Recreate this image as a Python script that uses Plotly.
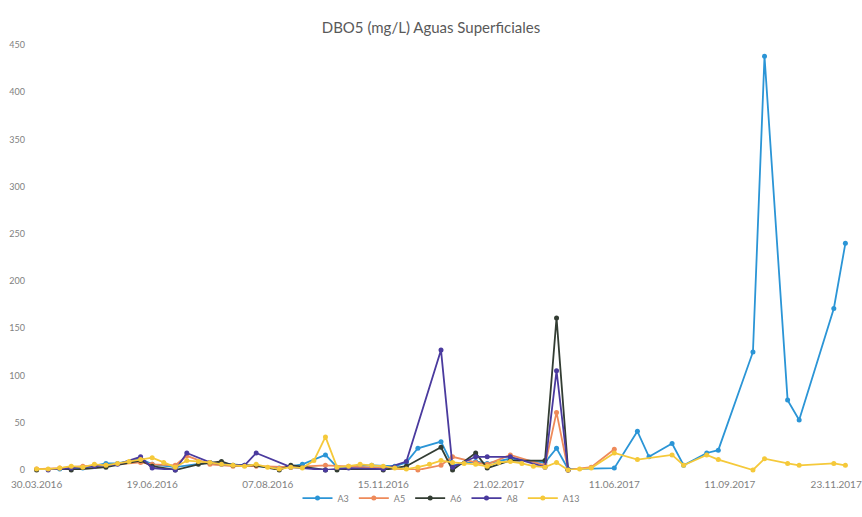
import plotly.graph_objects as go

title_text = "DBO5 (mg/L) Aguas Superficiales"

# Category axis: sample index (0..70); tick labels every 10 samples
tick_index = [0, 10, 20, 30, 40, 50, 60, 70]
tick_labels = ["30.03.2016", "19.06.2016", "07.08.2016", "15.11.2016",
               "21.02.2017", "11.06.2017", "11.09.2017", "23.11.2017"]
y_ticks = [0, 50, 100, 150, 200, 250, 300, 350, 400, 450]

series_names = ["A3", "A5", "A6", "A8", "A13"]

a3_idx = [2, 4, 6, 7, 9, 10, 12, 15, 18, 21, 23, 25, 26, 29, 31, 32, 33, 35, 36, 38, 39, 41, 44, 45, 46,
          50, 52, 53, 55, 56, 58, 59, 62, 63, 65, 66, 69, 70]
a3_val = [1, 2, 7, 7, 12, 6, 3, 8, 5, 2, 6, 16, 3, 5, 4, 8, 23, 30, 5, 9, 7, 12, 8, 23, 1,
          2, 41, 14, 28, 5, 18, 21, 125, 438, 74, 53, 171, 240]

a5_idx = [0, 2, 4, 6, 9, 10, 12, 13, 15, 17, 19, 22, 25, 27, 30, 33, 35, 36, 38, 39, 41, 44, 45, 46, 48, 50]
a5_val = [1, 2, 4, 5, 8, 6, 5, 15, 6, 4, 4, 3, 5, 4, 2, 0, 5, 14, 8, 6, 16, 5, 61, 0, 3, 22]

a6_idx = [0, 3, 6, 9, 10, 12, 14, 16, 17, 19, 21, 22, 25, 26, 30, 32, 35, 36, 38, 39, 41, 44, 45, 46]
a6_val = [0, 0, 3, 10, 4, 0, 6, 9, 5, 5, 0, 5, 0, 0, 0, 4, 24, 0, 18, 2, 10, 10, 161, 0]

a8_idx = [1, 3, 5, 7, 9, 10, 12, 13, 15, 16, 18, 19, 22, 25, 27, 30, 32, 35, 36, 38, 39, 41, 44, 45, 46]
a8_val = [0, 2, 4, 6, 14, 2, 0, 18, 8, 6, 5, 18, 3, 0, 2, 1, 9, 127, 3, 14, 14, 14, 3, 105, 0]

a13_idx = [0, 1, 2, 3, 4, 5, 6, 7, 8, 9, 10, 11, 12, 13, 14, 15, 16, 17, 18, 19, 20, 21, 22, 23, 24,
           25, 26, 27, 28, 29, 30, 31, 32, 33, 34, 35, 36, 37, 38, 39, 40, 41, 42, 43, 44, 45, 46,
           47, 48, 50, 52, 55, 56, 58, 59, 62, 63, 65, 66, 69, 70]
a13_val = [1, 1, 2, 4, 3, 6, 5, 7, 9, 11, 13, 8, 3, 10, 9, 8, 6, 5, 4, 6, 3, 1, 3, 2, 10,
           35, 3, 4, 6, 5, 4, 2, 1, 3, 6, 10, 8, 7, 6, 4, 8, 9, 7, 4, 3, 8, 0,
           1, 2, 18, 11, 16, 5, 16, 11, 0, 12, 7, 5, 7, 5]

colors = ["#2b95d6", "#ee8a5a", "#333d33", "#4a3a9e", "#f5c93a"]
data = [(a3_idx, a3_val), (a5_idx, a5_val), (a6_idx, a6_val), (a8_idx, a8_val), (a13_idx, a13_val)]

fig = go.Figure()
for name, (xs, ys), col in zip(series_names, data, colors):
    fig.add_trace(go.Scatter(
        x=xs, y=ys, name=name, mode="lines+markers",
        line=dict(color=col, width=1.8),
        marker=dict(color=col, size=5),
        cliponaxis=False,
    ))

# keep the last date label inside the canvas, as in the reference
tick_pos = tick_index[:-1] + [tick_index[-1] - 0.8]

fig.update_layout(
    width=862, height=517,
    margin=dict(l=32, r=12, t=45, b=47, autoexpand=False),
    paper_bgcolor="white", plot_bgcolor="white",
    title=dict(text=title_text, x=0.5, xanchor="center", y=1 - 28 / 517, yanchor="middle",
               font=dict(family="Lato", size=15, color="#595959")),
    font=dict(family="Lato", color="#7f7f7f", size=10),
    showlegend=True,
    legend=dict(orientation="h", x=0.5, xanchor="center", y=-0.066, yanchor="middle",
                bgcolor="rgba(0,0,0,0)",
                font=dict(size=9, color="#7f7f7f"), traceorder="normal",
                itemwidth=30),
    xaxis=dict(range=[-0.4, 70.4], tickmode="array", tickvals=tick_pos, ticktext=tick_labels,
               showgrid=False, zeroline=False, showline=False, ticks="", automargin=False,
               ticklabelstandoff=7, ticklabeloverflow="allow",
               tickfont=dict(size=10, color="#7f7f7f")),
    yaxis=dict(range=[0, 450], tickmode="array", tickvals=y_ticks, automargin=False,
               showgrid=False, zeroline=False, showline=False, ticks="",
               ticklabelstandoff=6,
               tickfont=dict(size=9, color="#7f7f7f")),
)

fig.write_html("out.html", config={"displayModeBar": False},
               post_script="document.body.style.margin='0';document.body.style.overflow='hidden';")
